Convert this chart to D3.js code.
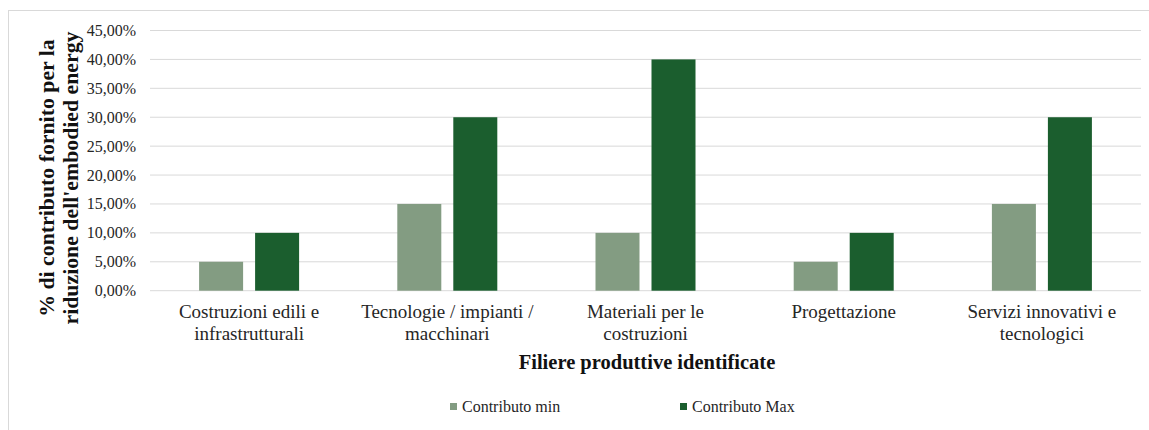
<!DOCTYPE html>
<html><head><meta charset="utf-8">
<script src="https://cdn.jsdelivr.net/npm/d3@7"></script>
<style>body{margin:0;background:#fff}svg{display:block}</style>
</head><body><svg id="c" width="1149" height="430" font-family="'Liberation Serif', 'Times New Roman', serif"></svg>
<script>
const categories = [["Costruzioni edili e","infrastrutturali"],["Tecnologie / impianti /","macchinari"],["Materiali per le","costruzioni"],["Progettazione"],["Servizi innovativi e","tecnologici"]];
const seriesNames = ["Contributo min","Contributo Max"];
const contributoMin = [0.05,0.15,0.10,0.05,0.15];
const contributoMax = [0.10,0.30,0.40,0.10,0.30];
const yTicks = [0,0.05,0.10,0.15,0.20,0.25,0.30,0.35,0.40,0.45];
const colors = ["#839C82","#1B5E2E"];

const svg = d3.select("#c");
svg.append("rect").attr("x",8.5).attr("y",10.5).attr("width",1145).attr("height",420).attr("fill","none").attr("stroke","#d9d9d9");
const m = {l:150,r:1141,t:30.5,b:290.7};
const x = d3.scaleBand().domain(d3.range(categories.length)).range([m.l,m.r]);
const y = d3.scaleLinear().domain([0,0.45]).range([m.b,m.t]);
const fmt = v => d3.format(".2f")(v*100).replace(".",",")+"%";

svg.append("g").selectAll("line").data(yTicks).join("line")
 .attr("x1",m.l).attr("x2",m.r).attr("y1",d=>y(d)).attr("y2",d=>y(d))
 .attr("stroke","#d9d9d9").attr("stroke-width",1);
svg.append("g").selectAll("text").data(yTicks).join("text")
 .attr("x",136).attr("y",d=>y(d)+5.5).attr("text-anchor","end").attr("font-size",16).attr("fill","#262626").text(fmt);

const bw = 44, gap = 12;
const data = [contributoMin, contributoMax];
data.forEach((vals,si)=>{
  svg.append("g").selectAll("rect").data(vals).join("rect")
   .attr("x",(d,i)=>x(i)+x.bandwidth()/2 + (si===0 ? -gap/2-bw : gap/2))
   .attr("y",d=>y(d)).attr("width",bw).attr("height",d=>y(0)-y(d))
   .attr("fill",colors[si]);
});

const cl = svg.append("g").selectAll("text").data(categories).join("text")
 .attr("text-anchor","middle").attr("font-size",19).attr("fill","#262626");
cl.each(function(d,i){
  const t=d3.select(this);
  d.forEach((s,j)=>t.append("tspan").attr("x",x(i)+x.bandwidth()/2).attr("y",318+j*22).text(s));
});

svg.append("text").attr("x",647).attr("y",369).attr("text-anchor","middle").attr("fill","#111")
 .attr("font-size",20.5).attr("font-weight","bold").text("Filiere produttive identificate");

const yt = svg.append("text").attr("transform","translate(0,178) rotate(-90)").attr("fill","#111")
 .attr("text-anchor","middle").attr("font-size",21.8).attr("font-weight","bold");
yt.append("tspan").attr("x",0).attr("y",54).text("% di contributo fornito per la");
yt.append("tspan").attr("x",0).attr("y",78).text("riduzione dell'embodied energy");

const lx = [450,680];
seriesNames.forEach((n,i)=>{
  svg.append("rect").attr("x",lx[i]).attr("y",403).attr("width",7).attr("height",7).attr("fill",colors[i]);
  svg.append("text").attr("x",lx[i]+12).attr("y",412).attr("font-size",16).attr("fill","#262626").text(n);
});
</script></body></html>
